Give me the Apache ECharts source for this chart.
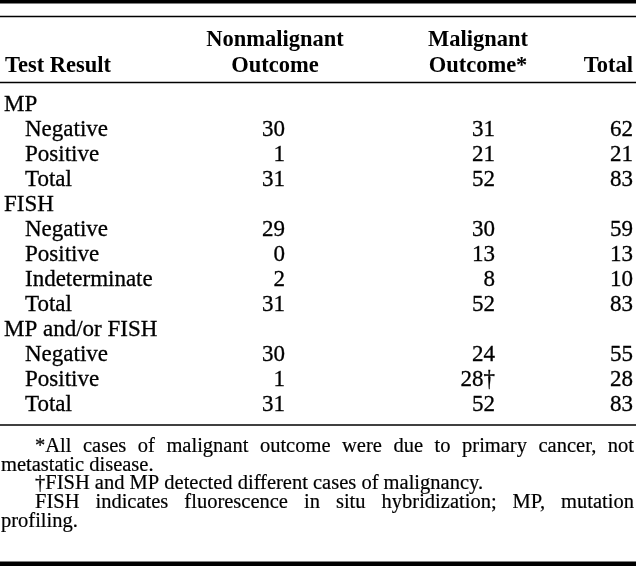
<!DOCTYPE html>
<html>
<head>
<meta charset="utf-8">
<script src="https://cdn.jsdelivr.net/npm/echarts@6/dist/echarts.min.js"></script>
<style>
  html, body { margin: 0; padding: 0; background: #fff; }
  #chart { width: 636px; height: 566px; }
</style>
</head>
<body>
<div id="chart"></div>
<script>
// table content
const rowLabels = ["MP", "Negative", "Positive", "Total", "FISH", "Negative", "Positive",
  "Indeterminate", "Total", "MP and/or FISH", "Negative", "Positive", "Total"];
const rowIndent = [0, 1, 1, 1, 0, 1, 1, 1, 1, 0, 1, 1, 1];
const nonmalignant = [null, 30, 1, 31, null, 29, 0, 2, 31, null, 30, 1, 31];
const malignant = [null, 31, 21, 52, null, 30, 13, 8, 52, null, 24, 28, 52];
const total = [null, 62, 21, 83, null, 59, 13, 10, 83, null, 55, 28, 83];
const malignantMarks = ["", "", "", "", "", "", "", "", "", "", "", "\u2020", ""];
const footnotes = [
  { text: "*All cases of malignant outcome were due to primary cancer, not", indent: true, justify: true },
  { text: "metastatic disease.", indent: false, justify: false },
  { text: "\u2020FISH and MP detected different cases of malignancy.", indent: true, justify: false },
  { text: "FISH indicates fluorescence in situ hybridization; MP, mutation", indent: true, justify: true },
  { text: "profiling.", indent: false, justify: false }
];

const SERIF = '"Liberation Serif", "Times New Roman", serif';
const INK = "#000";
const colRight = { nonmal: 285, mal: 495, total: 633 };

const chart = echarts.init(document.getElementById("chart"));

function cells(values, x, marks) {
  const out = [];
  values.forEach((v, i) => {
    if (v === null) return;
    out.push([x, i, String(v) + (marks ? marks[i] : "")]);
  });
  return out;
}

// a column of table cells, placed through the grid's axes
function textSeries(data, align) {
  return {
    type: "custom",
    silent: true,
    data: data.map((d) => [d[0], d[1]]),
    renderItem: (params, api) => {
      const p = api.coord([api.value(0), api.value(1)]);
      return {
        type: "text",
        x: p[0],
        y: p[1],
        style: {
          text: data[params.dataIndex][2],
          fontFamily: SERIF,
          fontSize: 23,
          fill: INK,
          stroke: INK,
          lineWidth: 0.3,
          align: align,
          verticalAlign: "middle",
          textAlign: align,
          textVerticalAlign: "middle"
        }
      };
    }
  };
}

// justified footnote lines, word by word
const FOOT_SIZE = 20.5;
const measure = document.createElement("canvas").getContext("2d");
measure.font = FOOT_SIZE + 'px "Liberation Serif"';
const footY = [447, 466, 484, 503, 522];
const footGraphics = [];
function footText(text, x, y) {
  return {
    type: "text", x: x, y: y,
    style: { text: text, fontFamily: SERIF, fontSize: FOOT_SIZE, fill: INK,
      stroke: INK, lineWidth: 0.2,
      align: "left", verticalAlign: "middle", textAlign: "left", textVerticalAlign: "middle" }
  };
}
footnotes.forEach((f, k) => {
  const x0 = f.indent ? 35 : 1;
  const x1 = 634;
  if (!f.justify) {
    footGraphics.push(footText(f.text, x0, footY[k]));
    return;
  }
  const words = f.text.split(" ");
  const widths = words.map((w) => measure.measureText(w).width);
  const sum = widths.reduce((a, b) => a + b, 0);
  const gap = (x1 - x0 - sum) / (words.length - 1);
  let x = x0;
  words.forEach((w, i) => {
    footGraphics.push(footText(w, x, footY[k]));
    x += widths[i] + gap;
  });
});

function headText(text, x, y, align) {
  return {
    type: "text", x: x, y: y,
    style: { text: text, fontFamily: SERIF, fontSize: 22.5, fontWeight: "bold", fill: INK,
      align: align, verticalAlign: "middle", textAlign: align, textVerticalAlign: "middle" }
  };
}

function rule(y, h) {
  return { type: "rect", shape: { x: 0, y: y, width: 636, height: h }, style: { fill: INK } };
}

const option = {
  animation: false,
  backgroundColor: "#fff",
  grid: { left: 0, right: 0, top: 92, height: 325 },
  xAxis: { type: "value", min: 0, max: 636, show: false },
  yAxis: { type: "value", min: -0.5, max: 12.5, inverse: true, show: false },
  graphic: [
    rule(0, 3.5),
    rule(15.8, 1.4),
    rule(81.8, 1.5),
    rule(424.3, 1.5),
    rule(561.5, 5),
    headText("Nonmalignant", 275, 40, "center"),
    headText("Outcome", 275, 66, "center"),
    headText("Malignant", 478, 40, "center"),
    headText("Outcome*", 478, 66, "center"),
    headText("Test Result", 5, 66, "left"),
    headText("Total", 633, 66, "right")
  ].concat(footGraphics),
  series: [
    textSeries(rowLabels.map((t, i) => [rowIndent[i] ? 25 : 4, i, t]), "left"),
    textSeries(cells(nonmalignant, colRight.nonmal), "right"),
    textSeries(cells(malignant, colRight.mal, malignantMarks), "right"),
    textSeries(cells(total, colRight.total), "right")
  ]
};

chart.setOption(option);
window.onresize = chart.resize;
</script>
</body>
</html>
